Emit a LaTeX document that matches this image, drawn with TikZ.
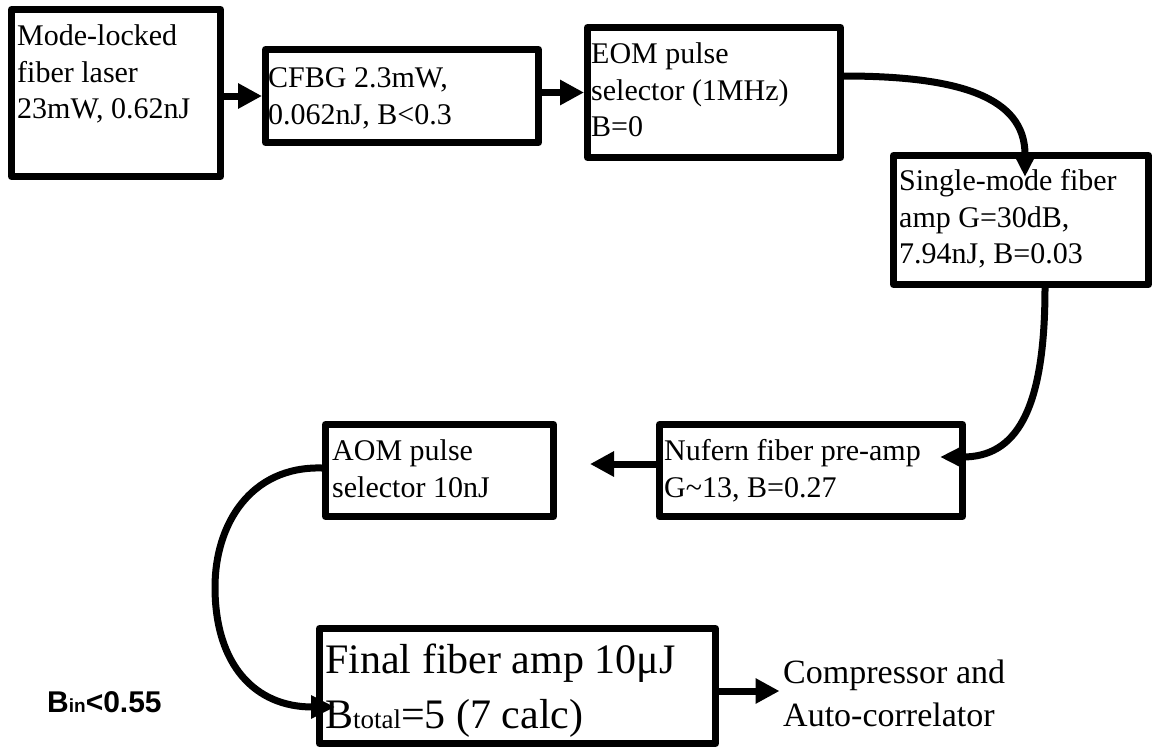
\documentclass[tikz,border=0pt]{standalone}
\usepackage{fontspec}
\setmainfont{Liberation Serif}
\newfontfamily\labelsans{Liberation Sans}
\usetikzlibrary{arrows.meta}

\begin{document}
\begin{tikzpicture}[x=1pt,y=-1pt,
  box/.style={draw=black, line width=7pt, line join=round, inner sep=0pt},
  txt/.style={anchor=north west, inner sep=0pt, align=left,
    font=\fontsize{30pt}{36.5pt}\selectfont},
  bigtxt/.style={anchor=north west, inner sep=0pt, align=left,
    font=\fontsize{42pt}{55pt}\selectfont},
  outtxt/.style={anchor=north west, inner sep=0pt, align=left,
    font=\fontsize{34pt}{43pt}\selectfont},
  flow/.style={line width=7pt, -{Triangle[length=24pt,width=24pt]}},
  curvy/.style={line width=7pt, -{Triangle[length=24pt,width=22pt]}}
]
\useasboundingbox (0,0) rectangle (1154,748);

% stage boxes
\node[box, minimum width=209pt, minimum height=167pt] (laser)  at (116,93)    {};
\node[box, minimum width=273pt, minimum height=93pt]  (cfbg)   at (402,96)    {};
\node[box, minimum width=253pt, minimum height=130pt] (eom)    at (714,92.5)  {};
\node[box, minimum width=255pt, minimum height=129pt] (smf)    at (1021,220)  {};
\node[box, minimum width=303pt, minimum height=92pt]  (nufern) at (811,470.5) {};
\node[box, minimum width=228pt, minimum height=92pt]  (aom)    at (439.5,470.5) {};
\node[box, minimum width=396pt, minimum height=115pt] (final)  at (517.5,686) {};

% stage descriptions (top-left aligned inside the boxes)
\node[txt] (lasertxt)  at (17,24.5)   {Mode-locked\\fiber laser\\23mW, 0.62nJ};
\node[txt] (cfbgtxt)   at (268,67.5)  {CFBG 2.3mW,\\0.062nJ, B<0.3};
\node[txt] (eomtxt)    at (591,42.5)  {EOM pulse\\selector (1MHz)\\B=0};
\node[txt] (smftxt)    at (899,169.5) {Single-mode fiber\\amp G=30dB,\\7.94nJ, B=0.03};
\node[txt] (nuferntxt) at (664,439.5) {Nufern fiber pre-amp\\G\textasciitilde13, B=0.27};
\node[txt] (aomtxt)    at (332,439.5) {AOM pulse\\selector 10nJ};
\node[bigtxt] (finaltxt) at (325,643.3)
  {Final fiber amp 10μJ\\B{\fontsize{27pt}{27pt}\selectfont total}=5 (7 calc)};
\node[outtxt] (comp) at (783,660) {Compressor and\\Auto-correlator};
\node[anchor=base west, inner sep=0pt, font=\labelsans\bfseries\fontsize{30pt}{30pt}\selectfont]
  (bin) at (47,712) {B{\fontsize{19pt}{19pt}\selectfont in}<0.55};

% free ends of the open arrows
\coordinate (aomin)  at (590,464);
\coordinate (compin) at (779.5,691);

% straight connectors
\draw[flow] (laser.east |- cfbg.west) -- (cfbg.west);
\draw[flow] (cfbg.east |- eom.west) -- (eom.west);
\draw[flow] ([yshift=6.5pt]nufern.west) -- (aomin);
\draw[flow] ([yshift=-5pt]final.east) -- (compin);

% curved connectors
\draw[curvy] ([yshift=16.5pt]eom.east)
  .. controls +(115,0) and +(0,-80) .. ([shift={(4,25)}]smf.north);
\draw[curvy] ([xshift=24pt]smf.south)
  .. controls +(0,125) and +(75,0) .. ([shift={(-26,-13.5)}]nufern.east);
\coordinate (bend) at (215,587);
\draw[curvy] ([yshift=2.5pt]aom.west)
  .. controls (250,466) and (215,525) .. (bend)
  .. controls (215,665) and (255,707) .. ([shift={(19,21)}]final.west);
\end{tikzpicture}
\end{document}
